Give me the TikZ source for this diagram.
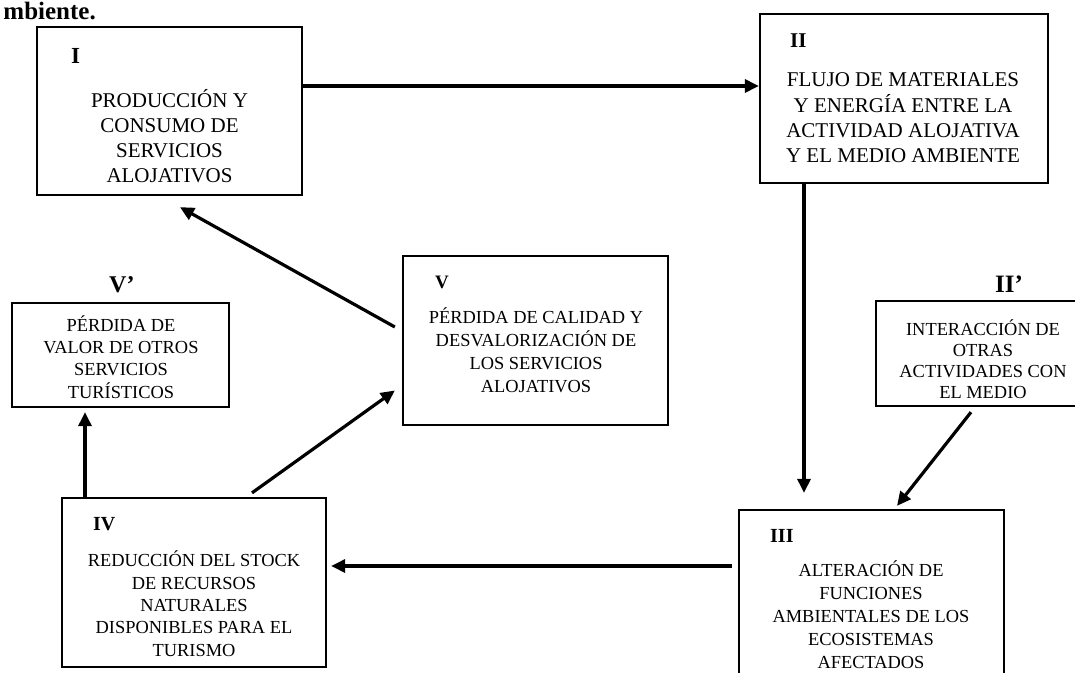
\documentclass[tikz,border=0pt]{standalone}
\usepackage{fontspec}
\setmainfont{Liberation Serif}
\usetikzlibrary{arrows.meta}
\begin{document}
\begin{tikzpicture}[x=1pt,y=-1pt,
  box/.style={draw,line width=2.3pt,inner sep=0pt},
  big/.style={align=center,inner sep=0pt,font=\fontsize{21}{25}\selectfont},
  small/.style={align=center,inner sep=0pt,font=\fontsize{18.4}{#1}\selectfont},
  tag/.style={anchor=base west,inner sep=0pt,font=\bfseries\fontsize{#1}{#1}\selectfont},
  arr/.style={line width=3.2pt,-{Triangle[length=14pt,width=13pt]}}]
\useasboundingbox (0,0) rectangle (1075,672);

% heading fragment at the top edge
\node[anchor=base east,inner sep=0pt,font=\bfseries\fontsize{25}{25}\selectfont] (head) at (96,19) {mbiente.};

% boxes
\node[box,minimum width=265pt,minimum height=168pt] (b1) at (169.5,111) {};
\node[box,minimum width=288pt,minimum height=169pt] (b2) at (904,98.5) {};
\node[box,minimum width=214pt,minimum height=105pt] (b2p) at (983,353.5) {};
\node[box,minimum width=265pt,minimum height=180pt] (b3) at (871.5,600) {};
\node[box,minimum width=264pt,minimum height=169pt] (b4) at (194,582.5) {};
\node[box,minimum width=265pt,minimum height=169pt] (b5) at (535.5,340.5) {};
\node[box,minimum width=217pt,minimum height=104pt] (b5p) at (120.5,355) {};

% roman numerals
\node[tag=23] (l1) at (71,63) {I};
\node[tag=21] (l2) at (790,47) {II};
\node[tag=25] (l2p) at (995,292) {II’};
\node[tag=20] (l3) at (770,542) {III};
\node[tag=20] (l4) at (93,530) {IV};
\node[tag=19] (l5) at (435,288) {V};
\node[tag=24] (l5p) at (109,292) {V’};

% box texts
\node[big] (t1) at (169.5,139.5) {\strut PRODUCCIÓN Y\\\strut CONSUMO DE\\\strut SERVICIOS\\\strut ALOJATIVOS};
\node[big] (t2) at (903,119.5) {\strut FLUJO DE MATERIALES\\\strut Y ENERGÍA ENTRE LA\\\strut ACTIVIDAD ALOJATIVA\\\strut Y EL MEDIO AMBIENTE};
\node[small=21] (t2p) at (983,361.8) {\strut INTERACCIÓN DE\\\strut OTRAS\\\strut ACTIVIDADES CON\\\strut EL MEDIO};
\node[small=22.8] (t3) at (871,617.9) {\strut ALTERACIÓN DE\\\strut FUNCIONES\\\strut AMBIENTALES DE LOS\\\strut ECOSISTEMAS\\\strut AFECTADOS};
\node[small=22.3] (t4) at (194,607) {\strut REDUCCIÓN DEL STOCK\\\strut DE RECURSOS\\\strut NATURALES\\\strut DISPONIBLES PARA EL\\\strut TURISMO};
\node[small=23] (t5) at (536,352.9) {\strut PÉRDIDA DE CALIDAD Y\\\strut DESVALORIZACIÓN DE\\\strut LOS SERVICIOS\\\strut ALOJATIVOS};
\node[small=22] (t5p) at (121,360.6) {\strut PÉRDIDA DE\\\strut VALOR DE OTROS\\\strut SERVICIOS\\\strut TURÍSTICOS};

% connectors
\draw[arr] ([yshift=25pt]b1.east) -- ([yshift=12.5pt]b2.west);
\draw[arr] ([xshift=-100pt]b2.south) -- ([xshift=-67.5pt,yshift=16pt]b3.north);
\draw[arr] ([xshift=-12pt,yshift=-5pt]b2p.south) -- ([xshift=25.5pt,yshift=3pt]b3.north);
\draw[arr] ([xshift=-6pt,yshift=34pt]b3.west) -- ([xshift=4pt,yshift=16.5pt]b4.east);
\draw[arr] ([xshift=-109pt]b4.north) -- ([xshift=-35.5pt,yshift=-4pt]b5p.south);
\draw[arr] ([xshift=58pt,yshift=4pt]b4.north) -- ([xshift=-7pt,yshift=-50pt]b5.west);
\draw[arr] ([xshift=-7pt,yshift=13.5pt]b5.west) -- ([xshift=10.5pt,yshift=-11pt]b1.south);
\end{tikzpicture}
\end{document}
